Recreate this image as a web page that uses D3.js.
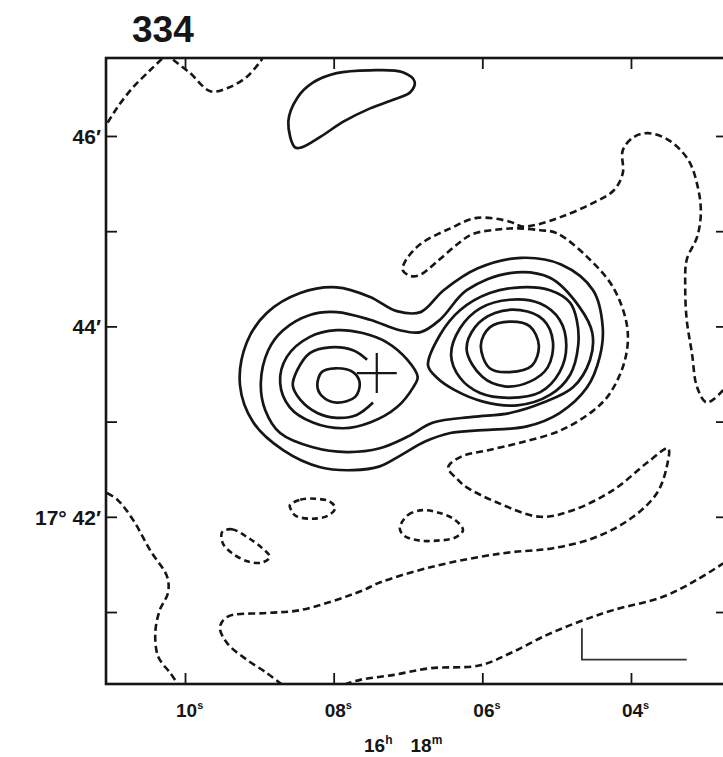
<!DOCTYPE html>
<html>
<head>
<meta charset="utf-8">
<script src="https://cdn.jsdelivr.net/npm/d3@7"></script>
<style>
	body { margin: 0; background: #fff; }
	svg { display: block; }
</style>
</head>
<body>
<div id="map334"></div>
<script>
// Radio contour map 334, RA in seconds past 16h 18m, Dec in arc minutes past 17 deg.

let raTicks 		= [ 10, 8, 6, 4 ] ;
let raTickText 		= [ "10", "08", "06", "04" ] ;
let decTicks 		= [ 46, 45, 44, 43, 42, 41 ] ;
let decLabelTicks 	= [ 46, 44, 42 ] ;
let decLabelText 	= [ "46′", "44′", "17° 42′" ] ;

// optical position (the cross)
let opticalPos 		= [ 7.42, 43.51 ] ;

// solid (positive) contours, closed
let solidTopBlob = [
	[8.52,45.88],[8.61,46.15],[8.49,46.40],[8.28,46.56],[7.96,46.66],[7.51,46.69],[7.07,46.67],
	[6.91,46.57],[6.97,46.46],[7.20,46.38],[7.51,46.29],[7.87,46.15],[8.18,45.99],[8.43,45.88]
] ;
let solidLevel1 = [
	[9.26,43.38],[9.17,43.83],[8.90,44.14],[8.45,44.35],[7.96,44.41],[7.51,44.31],[7.15,44.16],
	[6.83,44.15],[6.52,44.38],[6.06,44.61],[5.48,44.72],[4.94,44.65],[4.51,44.38],[4.38,43.99],
	[4.42,43.68],[4.59,43.36],[4.96,43.09],[5.40,42.95],[5.99,42.91],[6.43,42.88],[6.77,42.79],
	[7.11,42.64],[7.38,42.53],[7.74,42.49],[8.18,42.52],[8.68,42.70],[9.08,42.99]
] ;
let solidLevel2 = [
	[8.98,43.41],[8.88,43.75],[8.68,43.96],[8.32,44.12],[7.96,44.15],[7.51,44.07],[7.11,43.96],
	[6.83,43.94],[6.57,44.07],[6.21,44.38],[5.63,44.56],[5.09,44.51],[4.69,44.20],[4.52,43.93],
	[4.55,43.65],[4.78,43.36],[5.18,43.20],[5.63,43.09],[6.13,43.05],[6.66,42.99],[7.01,42.84],
	[7.38,42.72],[7.82,42.68],[8.28,42.73],[8.72,42.88],[8.92,43.12]
] ;
let solidWestLevel3 = [
	[7.96,43.96],[8.32,43.89],[8.63,43.68],[8.72,43.41],[8.59,43.15],[8.28,42.99],[7.87,42.93],
	[7.51,42.99],[7.15,43.15],[6.93,43.36],[6.87,43.47],[7.01,43.65],[7.28,43.83],[7.61,43.93]
] ;
let solidWestLevel5 = [
	[8.22,43.38],[8.16,43.52],[7.98,43.56],[7.74,43.52],[7.65,43.41],[7.71,43.26],[7.96,43.20],[8.16,43.27]
] ;
let solidEastLevel3 = [
	[6.73,43.59],[6.57,43.91],[6.30,44.17],[5.90,44.35],[5.49,44.41],[5.09,44.38],[4.82,44.25],
	[4.73,44.07],[4.71,43.80],[4.82,43.49],[5.09,43.28],[5.53,43.17],[5.99,43.21],[6.37,43.33],[6.61,43.46]
] ;
let solidEastLevel4 = [
	[6.42,43.70],[6.30,43.98],[6.03,44.19],[5.63,44.28],[5.22,44.24],[4.96,44.07],[4.87,43.80],
	[4.96,43.52],[5.22,43.31],[5.63,43.25],[6.03,43.30],[6.30,43.46]
] ;
let solidEastLevel5 = [
	[6.21,43.75],[6.10,43.99],[5.83,44.14],[5.49,44.17],[5.18,44.07],[5.05,43.84],[5.12,43.57],
	[5.36,43.42],[5.70,43.37],[6.00,43.47]
] ;
let solidEastLevel6 = [
	[6.02,43.80],[5.90,43.99],[5.63,44.05],[5.36,44.00],[5.24,43.80],[5.33,43.59],[5.63,43.52],[5.90,43.56]
] ;

// solid open: level 4 round the west peak, broken at the cross
let solidWestLevel4 = [
	[7.55,43.65],[7.74,43.75],[8.05,43.78],[8.32,43.72],[8.49,43.54],[8.55,43.38],[8.45,43.23],
	[8.22,43.09],[7.96,43.04],[7.69,43.07],[7.47,43.20]
] ;

// dashed (negative) contours, closed
let dashedIsland1 = [
	[8.59,42.12],[8.45,42.18],[8.25,42.19],[8.05,42.16],[7.98,42.09],[8.08,42.01],[8.29,41.98],[8.51,42.01],[8.57,42.07]
] ;
let dashedIsland2 = [
	[9.50,41.84],[9.37,41.87],[9.15,41.78],[8.96,41.67],[8.86,41.58],[8.96,41.52],[9.15,41.53],[9.37,41.62],[9.49,41.72]
] ;
let dashedIsland3 = [
	[7.11,41.88],[7.00,42.02],[6.80,42.07],[6.57,42.04],[6.37,41.97],[6.26,41.86],[6.37,41.78],[6.61,41.75],[6.84,41.75],[7.05,41.80]
] ;

// dashed open, running off the frame
let dashedNorthWest = [
	[11.04,46.14],[10.91,46.30],[10.70,46.51],[10.47,46.69],[10.31,46.81]
] ;
let dashedNorthDip = [
	[10.16,46.80],[9.93,46.66],[9.66,46.47],[9.44,46.50],[9.17,46.62],[8.96,46.81]
] ;
let dashedMain = [
	[2.76,43.33],[2.98,43.20],[3.11,43.36],[3.18,43.72],[3.25,44.07],[3.27,44.41],[3.25,44.70],
	[3.11,44.94],[3.06,45.19],[3.10,45.46],[3.23,45.75],[3.50,45.96],[3.77,46.03],[3.96,45.99],
	[4.11,45.85],[4.11,45.61],[4.23,45.43],[4.50,45.30],[4.94,45.15],[5.26,45.07],[5.47,45.05],
	[5.63,45.10],[6.07,45.14],[6.43,45.03],[6.84,44.86],[7.04,44.68],[7.07,44.59],[6.97,44.53],
	[6.84,44.54],[6.61,44.68],[6.34,44.86],[6.13,44.97],[5.76,45.02],[5.52,45.03],[5.22,45.01],
	[5.00,44.98],[4.59,44.73],[4.24,44.41],[4.05,43.99],[4.08,43.65],[4.28,43.30],[4.50,43.12],
	[4.94,42.91],[5.48,42.78],[5.92,42.70],[6.29,42.63],[6.46,42.52],[6.33,42.39],[6.21,42.31],
	[5.80,42.15],[5.22,42.00],[4.78,42.07],[4.24,42.28],[3.78,42.57],[3.50,42.72],[3.52,42.52],
	[3.65,42.25],[3.97,42.00],[4.46,41.79],[5.05,41.67],[5.59,41.63],[6.03,41.58],[6.70,41.47],
	[7.38,41.31],[7.63,41.22],[8.45,41.02],[8.90,40.99],[9.43,40.95],[9.53,40.84],[9.43,40.67],
	[9.17,40.50],[8.90,40.36],[8.70,40.24]
] ;
let dashedSouth = [
	[7.85,40.24],[7.63,40.29],[7.19,40.34],[6.70,40.41],[6.03,40.44],[5.59,40.58],[5.13,40.76],
	[4.69,40.90],[4.24,41.02],[3.57,41.16],[3.11,41.34],[2.76,41.51]
] ;
let dashedWest = [
	[11.05,42.25],[10.91,42.18],[10.70,41.97],[10.47,41.65],[10.24,41.37],[10.23,41.20],
	[10.34,41.02],[10.40,40.78],[10.36,40.53],[10.20,40.36],[10.09,40.24]
] ;

// beam / scale marker
let beamMarker = [ [4.66,40.83], [4.66,40.50], [3.25,40.50] ] ;

let solidClosed 	= [ solidTopBlob, solidLevel1, solidLevel2, solidWestLevel3, solidWestLevel5,
						solidEastLevel3, solidEastLevel4, solidEastLevel5, solidEastLevel6 ] ;
let solidOpen 		= [ solidWestLevel4 ] ;
let dashedClosed 	= [ dashedIsland1, dashedIsland2, dashedIsland3 ] ;
let dashedOpen 		= [ dashedNorthWest, dashedNorthDip, dashedMain, dashedSouth, dashedWest ] ;

// set the dimensions of the frame
let svgwidth 	= 723 ;
let svgheight 	= 757 ;
let frame 		= { 'left': 106, 'top': 58, 'right': 727, 'bottom': 684 } ;

let ink 		= "#161616" ;

makeMap = ()=>{

	let svg = d3.select("#map334").append("svg")
				.attr("width", svgwidth )
				.attr("height", svgheight )
				.style("font-family", "'Liberation Sans', Arial, sans-serif") ;

	// RA runs right to left
	let x = d3.scaleLinear()
				.domain([ 11.063, 2.708 ])
				.range([ frame.left, frame.right ]) ;

	let y = d3.scaleLinear()
				.domain([ 46.819, 40.244 ])
				.range([ frame.top, frame.bottom ]) ;

	svg.append("clipPath").attr("id", "frameclip")
		.append("rect")
			.attr("x", frame.left ).attr("y", frame.top )
			.attr("width", frame.right - frame.left )
			.attr("height", frame.bottom - frame.top ) ;

	let plot = svg.append("g").attr("clip-path", "url(#frameclip)") ;

	let closedLine 	= d3.line().x(d => x(d[0])).y(d => y(d[1])).curve(d3.curveCatmullRomClosed.alpha(0.5)) ;
	let openLine 	= d3.line().x(d => x(d[0])).y(d => y(d[1])).curve(d3.curveCatmullRom.alpha(0.5)) ;

	plot.selectAll(".solidc").data(solidClosed).join("path")
		.attr("d", closedLine )
		.attr("fill", "none").attr("stroke", ink ).attr("stroke-width", 2.7) ;

	plot.selectAll(".solido").data(solidOpen).join("path")
		.attr("d", openLine )
		.attr("fill", "none").attr("stroke", ink ).attr("stroke-width", 2.7) ;

	plot.selectAll(".dashc").data(dashedClosed).join("path")
		.attr("d", closedLine )
		.attr("fill", "none").attr("stroke", ink ).attr("stroke-width", 2.6)
		.attr("stroke-dasharray", "6,4") ;

	plot.selectAll(".dasho").data(dashedOpen).join("path")
		.attr("d", openLine )
		.attr("fill", "none").attr("stroke", ink ).attr("stroke-width", 2.6)
		.attr("stroke-dasharray", "7,4") ;

	// beam marker
	plot.append("path")
		.datum(beamMarker)
		.attr("d", d3.line().x(d => x(d[0])).y(d => y(d[1])) )
		.attr("fill", "none").attr("stroke", "#333").attr("stroke-width", 1.8) ;

	// cross at optical position
	let cx = x(opticalPos[0]), cy = y(opticalPos[1]) ;
	plot.append("path")
		.attr("d", "M" + (cx - 20) + "," + cy + "H" + (cx + 20) + "M" + cx + "," + (cy - 20) + "V" + (cy + 20) )
		.attr("stroke", ink ).attr("stroke-width", 2.2) ;

	// axes, ticks pointing in
	let axes = [
		[ d3.axisBottom(x).tickValues(raTicks), 0, frame.bottom ],
		[ d3.axisTop(x).tickValues(raTicks), 0, frame.top ],
		[ d3.axisLeft(y).tickValues(decTicks), frame.left, 0 ],
		[ d3.axisRight(y).tickValues(decTicks), frame.right, 0 ]
	] ;
	axes.forEach( a => {
		let g = svg.append("g")
			.attr("transform", "translate(" + a[1] + "," + a[2] + ")")
			.call( a[0].tickSize(-11).tickFormat("") ) ;
		g.select(".domain").remove() ;
		g.selectAll(".tick line").attr("stroke", ink ).attr("stroke-width", 1.8) ;
	}) ;

	// frame
	svg.append("rect")
		.attr("x", frame.left ).attr("y", frame.top )
		.attr("width", frame.right - frame.left )
		.attr("height", frame.bottom - frame.top )
		.attr("fill", "none").attr("stroke", ink ).attr("stroke-width", 2.6) ;

	// RA labels
	raTicks.forEach( (t, i) => {
		let txt = svg.append("text")
			.attr("x", x(t) - 9 ).attr("y", 717 )
			.attr("font-size", 19).attr("font-weight", "bold").attr("fill", ink ) ;
		txt.append("tspan").text( raTickText[i] ) ;
		txt.append("tspan").attr("dy", -8).attr("font-size", 11).text("s") ;
	}) ;

	let ra = svg.append("text")
		.attr("x", 364 ).attr("y", 752 )
		.attr("font-size", 19).attr("font-weight", "bold").attr("fill", ink ) ;
	ra.append("tspan").text("16") ;
	ra.append("tspan").attr("dy", -8).attr("font-size", 12).text("h") ;
	ra.append("tspan").attr("dy", 8).attr("dx", 18).text("18") ;
	ra.append("tspan").attr("dy", -8).attr("font-size", 12).text("m") ;

	// Dec labels
	decLabelTicks.forEach( (t, i) => {
		svg.append("text")
			.attr("x", 101 ).attr("y", y(t) + 8 )
			.attr("text-anchor", "end")
			.attr("font-size", 21).attr("font-weight", "bold").attr("fill", ink )
			.text( decLabelText[i] ) ;
	}) ;

	// figure number
	svg.append("text")
		.attr("x", 132 ).attr("y", 42 )
		.attr("font-size", 37).attr("font-weight", "bold").attr("fill", ink )
		.text("334") ;
}

makeMap() ;
</script>
</body>
</html>
